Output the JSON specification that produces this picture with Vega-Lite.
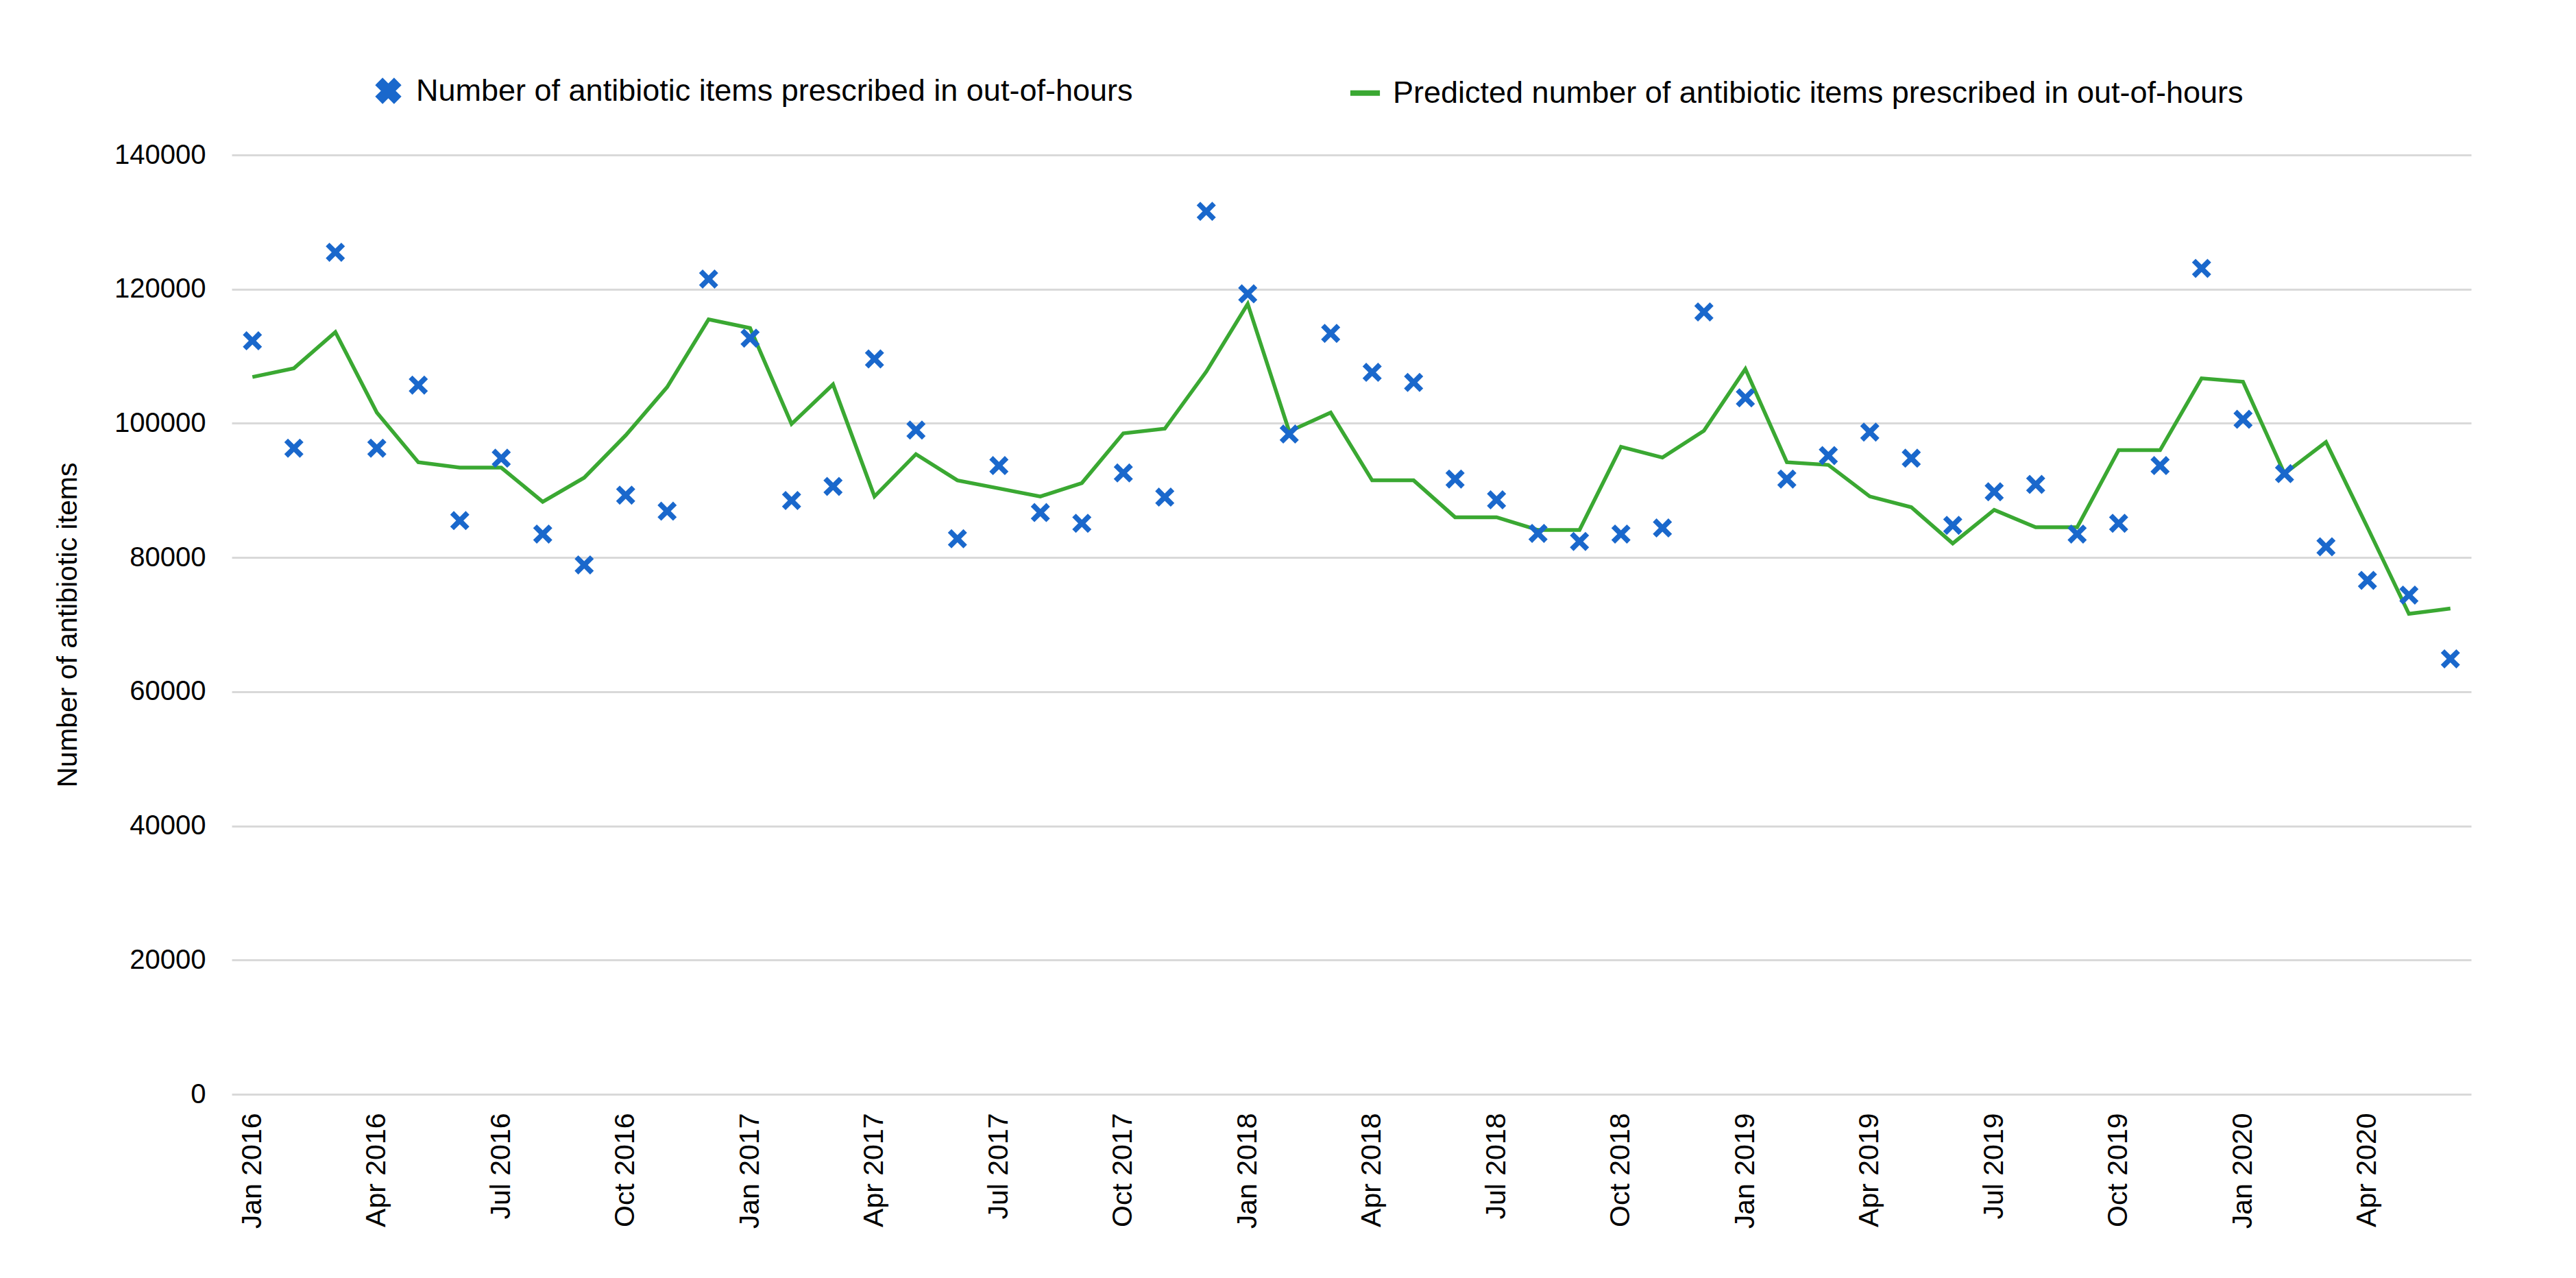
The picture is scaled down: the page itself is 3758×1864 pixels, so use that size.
{
  "$schema": "https://vega.github.io/schema/vega-lite/v6.json",
  "width": 3267,
  "height": 1370,
  "autosize": {"type": "none"},
  "padding": {"left": 338, "top": 226, "right": 153, "bottom": 268},
  "background": "white",
  "config": {
    "font": "Liberation Sans",
    "view": {"stroke": null}
  },
  "data": {
    "values": [
      {"month": "Jan 2016", "observed": 112300, "predicted": 106900},
      {"month": "Feb 2016", "observed": 96300, "predicted": 108200},
      {"month": "Mar 2016", "observed": 125500, "predicted": 113600},
      {"month": "Apr 2016", "observed": 96300, "predicted": 101600},
      {"month": "May 2016", "observed": 105700, "predicted": 94200},
      {"month": "Jun 2016", "observed": 85500, "predicted": 93400},
      {"month": "Jul 2016", "observed": 94800, "predicted": 93400},
      {"month": "Aug 2016", "observed": 83500, "predicted": 88300},
      {"month": "Sep 2016", "observed": 78900, "predicted": 91900},
      {"month": "Oct 2016", "observed": 89300, "predicted": 98200},
      {"month": "Nov 2016", "observed": 86900, "predicted": 105400},
      {"month": "Dec 2016", "observed": 121500, "predicted": 115500},
      {"month": "Jan 2017", "observed": 112700, "predicted": 114200},
      {"month": "Feb 2017", "observed": 88500, "predicted": 99900},
      {"month": "Mar 2017", "observed": 90600, "predicted": 105800},
      {"month": "Apr 2017", "observed": 109600, "predicted": 89100},
      {"month": "May 2017", "observed": 99000, "predicted": 95400},
      {"month": "Jun 2017", "observed": 82800, "predicted": 91500},
      {"month": "Jul 2017", "observed": 93700, "predicted": 90300},
      {"month": "Aug 2017", "observed": 86700, "predicted": 89100},
      {"month": "Sep 2017", "observed": 85100, "predicted": 91100},
      {"month": "Oct 2017", "observed": 92600, "predicted": 98500},
      {"month": "Nov 2017", "observed": 89000, "predicted": 99200},
      {"month": "Dec 2017", "observed": 131600, "predicted": 107700},
      {"month": "Jan 2018", "observed": 119300, "predicted": 117800},
      {"month": "Feb 2018", "observed": 98400, "predicted": 98800},
      {"month": "Mar 2018", "observed": 113400, "predicted": 101600},
      {"month": "Apr 2018", "observed": 107600, "predicted": 91500},
      {"month": "May 2018", "observed": 106100, "predicted": 91500},
      {"month": "Jun 2018", "observed": 91700, "predicted": 86000},
      {"month": "Jul 2018", "observed": 88600, "predicted": 86000},
      {"month": "Aug 2018", "observed": 83600, "predicted": 84100},
      {"month": "Sep 2018", "observed": 82400, "predicted": 84100},
      {"month": "Oct 2018", "observed": 83500, "predicted": 96500},
      {"month": "Nov 2018", "observed": 84400, "predicted": 94900},
      {"month": "Dec 2018", "observed": 116600, "predicted": 98900},
      {"month": "Jan 2019", "observed": 103800, "predicted": 108100},
      {"month": "Feb 2019", "observed": 91700, "predicted": 94200},
      {"month": "Mar 2019", "observed": 95200, "predicted": 93800},
      {"month": "Apr 2019", "observed": 98700, "predicted": 89100},
      {"month": "May 2019", "observed": 94800, "predicted": 87500},
      {"month": "Jun 2019", "observed": 84800, "predicted": 82100},
      {"month": "Jul 2019", "observed": 89800, "predicted": 87100},
      {"month": "Aug 2019", "observed": 90900, "predicted": 84500},
      {"month": "Sep 2019", "observed": 83500, "predicted": 84500},
      {"month": "Oct 2019", "observed": 85100, "predicted": 96000},
      {"month": "Nov 2019", "observed": 93700, "predicted": 96000},
      {"month": "Dec 2019", "observed": 123100, "predicted": 106700},
      {"month": "Jan 2020", "observed": 100600, "predicted": 106200},
      {"month": "Feb 2020", "observed": 92500, "predicted": 92500},
      {"month": "Mar 2020", "observed": 81600, "predicted": 97200},
      {"month": "Apr 2020", "observed": 76600, "predicted": 84500},
      {"month": "May 2020", "observed": 74400, "predicted": 71600},
      {"month": "Jun 2020", "observed": 64900, "predicted": 72400}
    ]
  },
  "transform": [
    {"fold": ["observed", "predicted"], "as": ["series", "value"]}
  ],
  "encoding": {
    "x": {
      "field": "month",
      "type": "ordinal",
      "sort": null,
      "scale": {"type": "point", "padding": 0.5},
      "axis": {
        "title": null,
        "values": ["Jan 2016", "Apr 2016", "Jul 2016", "Oct 2016", "Jan 2017", "Apr 2017", "Jul 2017", "Oct 2017", "Jan 2018", "Apr 2018", "Jul 2018", "Oct 2018", "Jan 2019", "Apr 2019", "Jul 2019", "Oct 2019", "Jan 2020", "Apr 2020"],
        "labelAngle": -90,
        "labelAlign": "right",
        "labelBaseline": "middle",
        "labelFontSize": 41,
        "labelColor": "#000000",
        "labelPadding": 27,
        "ticks": false,
        "domain": false,
        "grid": false
      }
    },
    "y": {
      "field": "value",
      "type": "quantitative",
      "scale": {"domain": [0, 140000], "nice": false},
      "axis": {
        "title": "Number of antibiotic items",
        "titleFontSize": 41,
        "titleFontWeight": "normal",
        "titleColor": "#000000",
        "titlePadding": 46,
        "values": [0, 20000, 40000, 60000, 80000, 100000, 120000, 140000],
        "format": "d",
        "labelFontSize": 40,
        "labelColor": "#000000",
        "labelPadding": 38,
        "ticks": false,
        "domain": false,
        "grid": true,
        "gridColor": "#d9d9d9",
        "gridWidth": 3
      }
    },
    "color": {
      "field": "series",
      "type": "nominal",
      "scale": {"domain": ["observed", "predicted"], "range": ["#1a68cc", "#3aa832"]},
      "legend": {
        "title": null,
        "orient": "none",
        "direction": "horizontal",
        "legendX": 206,
        "legendY": -116,
        "labelFontSize": 45,
        "labelColor": "#000000",
        "labelLimit": 3000,
        "labelOffset": 18,
        "columnPadding": 300,
        "symbolSize": 729,
        "symbolStrokeWidth": 8,
        "labelExpr": "datum.value === 'observed' ? 'Number of antibiotic items prescribed in out-of-hours' : 'Predicted number of antibiotic items prescribed in out-of-hours'",
        "encode": {
          "symbols": {
            "update": {
              "shape": {"signal": "datum.value === 'observed' ? 'M-1,-0.62L-0.62,-1L0,-0.38L0.62,-1L1,-0.62L0.38,0L1,0.62L0.62,1L0,0.38L-0.62,1L-1,0.62L-0.38,0Z' : 'M-1.6,0L1.6,0'"},
              "fill": {"signal": "datum.value === 'observed' ? '#1a68cc' : 'transparent'"},
              "stroke": {"signal": "datum.value === 'observed' ? 'transparent' : '#3aa832'"},
              "strokeWidth": {"value": 8},
              "opacity": {"value": 1}
            }
          }
        }
      }
    }
  },
  "layer": [
    {
      "transform": [{"filter": "datum.series === 'predicted'"}],
      "mark": {"type": "line", "strokeWidth": 5.5}
    },
    {
      "transform": [{"filter": "datum.series === 'observed'"}],
      "mark": {
        "type": "point",
        "filled": true,
        "opacity": 1,
        "size": 784,
        "shape": "M-1,-0.62L-0.62,-1L0,-0.38L0.62,-1L1,-0.62L0.38,0L1,0.62L0.62,1L0,0.38L-0.62,1L-1,0.62L-0.38,0Z"
      }
    }
  ]
}
